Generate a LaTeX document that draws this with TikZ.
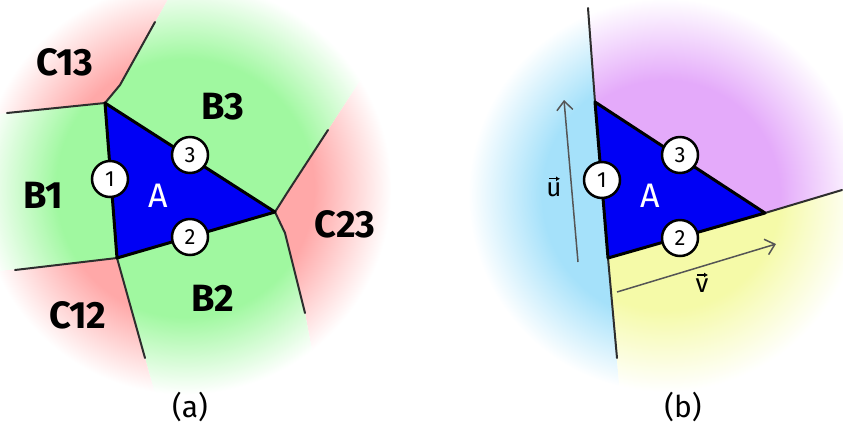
\documentclass[tikz,border=0pt]{standalone}
\usepackage{fontspec}
\setmainfont{Fira Sans}
\usetikzlibrary{arrows.meta}
\definecolor{regG}{RGB}{160,248,160}
\definecolor{regR}{RGB}{255,168,168}
\definecolor{regC}{RGB}{165,225,250}
\definecolor{regP}{RGB}{228,170,250}
\definecolor{regY}{RGB}{245,250,168}
\definecolor{triB}{RGB}{0,0,245}
\definecolor{bndC}{RGB}{45,45,45}
\definecolor{arrC}{RGB}{85,85,85}
\pgfdeclareradialshading{fadeG}{\pgfpoint{0bp}{0bp}}{color(0bp)=(regG); color(15bp)=(regG); color(24bp)=(white); color(50bp)=(white)}
\pgfdeclareradialshading{fadeR}{\pgfpoint{0bp}{0bp}}{color(0bp)=(regR); color(15bp)=(regR); color(24bp)=(white); color(50bp)=(white)}
\pgfdeclareradialshading{fadeC}{\pgfpoint{0bp}{0bp}}{color(0bp)=(regC); color(15bp)=(regC); color(24bp)=(white); color(50bp)=(white)}
\pgfdeclareradialshading{fadeP}{\pgfpoint{0bp}{0bp}}{color(0bp)=(regP); color(14bp)=(regP); color(24bp)=(white); color(50bp)=(white)}
\pgfdeclareradialshading{fadeY}{\pgfpoint{0bp}{0bp}}{color(0bp)=(regY); color(14bp)=(regY); color(24bp)=(white); color(50bp)=(white)}
\tikzset{
  bnd/.style={draw=bndC, line width=2pt, line cap=round, line join=round},
  tri/.style={draw=black, fill=triB, line width=3pt, line join=round},
  port/.style={circle, draw=black, fill=white, line width=2.5pt, minimum size=36pt, inner sep=0pt, font=\fontsize{22}{22}\selectfont},
  reglabel/.style={font=\fontsize{38}{38}\selectfont\bfseries, text=black},
  alabel/.style={font=\fontsize{34}{34}\selectfont, text=white},
  caplabel/.style={font=\fontsize{30}{30}\selectfont},
  vecarrow/.style={draw=arrC, line width=1.5pt, -{Straight Barb[length=9pt,width=16pt,line width=1.5pt]}},
  veclabel/.style={font=\fontsize{26}{26}\selectfont, text=black, inner sep=1pt},
  accarrow/.style={draw=black, line width=1.3pt, -{Latex[length=4pt,width=5pt]}}
}
\begin{document}
\begin{tikzpicture}[x=1pt,y=-1pt]
\useasboundingbox (0,0) rectangle (843,424);
\clip (0,0) rectangle (843,424);
% ---------------- panel (a) ----------------
\coordinate (P) at (105,103);
\coordinate (Q) at (275,212);
\coordinate (R) at (117,258);
\coordinate (Pk) at (120,85);
\coordinate (Pu) at (155,22);
\coordinate (Pue) at (180,-22);
\coordinate (Pl) at (7,113);
\coordinate (Ple) at (-20,116);
\coordinate (Qk) at (287,193);
\coordinate (Qu) at (328,130);
\coordinate (Que) at (390,35);
\coordinate (Qj) at (285,233);
\coordinate (Qd) at (305,313);
\coordinate (Qde) at (327,430);
\coordinate (Rl) at (15,270);
\coordinate (Rle) at (-20,273);
\coordinate (Rd) at (145,358);
\coordinate (Rde) at (165,430);
\coordinate (Ca) at (185,188);
% C13
\begin{scope}
\clip (P) -- (Pk) -- (Pue) -- (-30,-30) -- (Ple) -- cycle;
\shade[shading=fadeR] (Ca) circle (215pt);
\end{scope}
% B3
\begin{scope}
\clip (P) -- (Pk) -- (Pue) -- (450,-30) -- (Que) -- (Qk) -- (Q) -- cycle;
\shade[shading=fadeG] (Ca) circle (215pt);
\end{scope}
% C23
\begin{scope}
\clip (Q) -- (Qk) -- (Que) -- (450,-30) -- (450,450) -- (Qde) -- (Qd) -- (Qj) -- cycle;
\shade[shading=fadeR] (Ca) circle (215pt);
\end{scope}
% B2
\begin{scope}
\clip (Q) -- (Qj) -- (Qd) -- (Qde) -- (Rde) -- (Rd) -- (R) -- cycle;
\shade[shading=fadeG] (Ca) circle (215pt);
\end{scope}
% C12
\begin{scope}
\clip (R) -- (Rd) -- (Rde) -- (-30,450) -- (Rle) -- cycle;
\shade[shading=fadeR] (Ca) circle (215pt);
\end{scope}
% B1
\begin{scope}
\clip (R) -- (Rle) -- (Ple) -- (P) -- cycle;
\shade[shading=fadeG] (Ca) circle (215pt);
\end{scope}
\draw[bnd] (P) -- (Pk) -- (Pu);
\draw[bnd] (P) -- (Pl);
\draw[bnd] (Q) -- (Qk) -- (Qu);
\draw[bnd] (Q) -- (Qj) -- (Qd);
\draw[bnd] (R) -- (Rl);
\draw[bnd] (R) -- (Rd);
\path[tri] (P) -- (Q) -- (R) -- cycle;
\node[alabel] (aA) at (158,196) {A};
\node[port] (a1) at (110,179) {1};
\node[port] (a3) at (190,155) {3};
\node[port] (a2) at (190,237) {2};
\node[reglabel] (lC13) at (65,62) {C13};
\node[reglabel] (lB3) at (223,107) {B3};
\node[reglabel] (lB1) at (43,195) {B1};
\node[reglabel] (lC23) at (345,224) {C23};
\node[reglabel] (lC12) at (78,315) {C12};
\node[reglabel] (lB2) at (213,298) {B2};
\node[caplabel] (capa) at (190,407) {(a)};
% ---------------- panel (b) ----------------
\coordinate (P2) at (595,102);
\coordinate (Q2) at (765,213);
\coordinate (R2) at (608,258);
\coordinate (T2) at (588,8);
\coordinate (T2e) at (586,-30);
\coordinate (B2p) at (617,358);
\coordinate (B2e) at (624,440);
\coordinate (E2) at (842,190);
\coordinate (E2e) at (900,173);
\coordinate (Cb) at (665,195);
% cyan
\begin{scope}
\clip (T2e) -- (P2) -- (R2) -- (B2e) -- (420,440) -- (420,-30) -- cycle;
\shade[shading=fadeC] (Cb) circle (205pt);
\end{scope}
% purple
\begin{scope}
\clip (T2e) -- (P2) -- (Q2) -- (E2e) -- (900,-30) -- cycle;
\shade[shading=fadeP] (Cb) circle (205pt);
\end{scope}
% yellow
\begin{scope}
\clip (R2) -- (Q2) -- (E2e) -- (900,440) -- (B2e) -- cycle;
\shade[shading=fadeY] (Cb) circle (205pt);
\end{scope}
\draw[bnd] (T2) -- (P2);
\draw[bnd] (R2) -- (B2p);
\draw[bnd] (Q2) -- (E2);
\path[tri] (P2) -- (Q2) -- (R2) -- cycle;
\node[alabel] (bA) at (650,196) {A};
\node[port] (b1) at (602,180) {1};
\node[port] (b3) at (680,155) {3};
\node[port] (b2) at (680,238) {2};
\coordinate (u0) at (578,262);
\coordinate (u1) at (564,100);
\coordinate (v0) at (617,292);
\coordinate (v1) at (776,244);
\draw[vecarrow] (u0) -- (u1);
\draw[vecarrow] (v0) -- (v1);
\node[veclabel] (lu) at (554,190) {u};
\node[veclabel] (lv) at (702,286) {v};
\draw[accarrow] ([xshift=-5pt,yshift=3pt]lu.north) -- ([xshift=6pt,yshift=3pt]lu.north);
\draw[accarrow] ([xshift=-5pt,yshift=3pt]lv.north) -- ([xshift=6pt,yshift=3pt]lv.north);
\node[caplabel] (capb) at (683,407) {(b)};
\end{tikzpicture}
\end{document}
